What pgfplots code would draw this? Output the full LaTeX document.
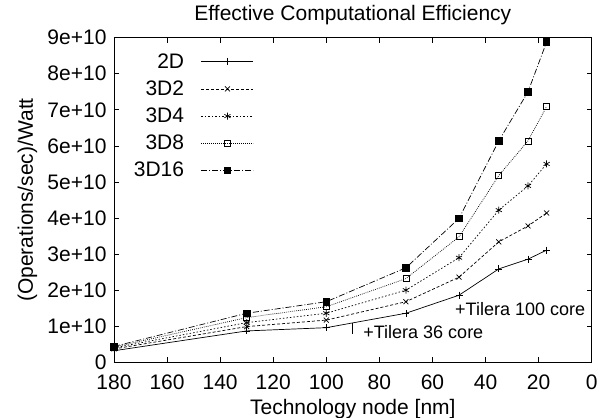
\documentclass[border=0pt]{standalone}
\usepackage{pgfplots}
\pgfplotsset{compat=1.18}
\usepackage{fontspec}
\setmainfont{Liberation Sans}
\begin{document}
\begin{tikzpicture}[font=\fontsize{21bp}{25bp}\selectfont]
\begin{axis}[
  scale only axis,
  width=477.7bp, height=324.6bp,
  xmin=0, xmax=180, ymin=0, ymax=9e10,
  x dir=reverse,
  xtick={0,20,...,180},
  ytick={0,1e10,2e10,3e10,4e10,5e10,6e10,7e10,8e10,9e10},
  yticklabels={0,1e+10,2e+10,3e+10,4e+10,5e+10,6e+10,7e+10,8e+10,9e+10},
  scaled y ticks=false,
  /pgf/number format/assume math mode=true,
  tick align=inside,
  major tick length=5bp,
  tick style={black, line width=0.8bp},
  axis line style={line width=0.8bp},
  xticklabel style={anchor=base, yshift=-27bp},
  yticklabel style={anchor=east, xshift=-4bp},
  title={Effective Computational Efficiency},
  title style={at={(rel axis cs:0.5,1)}, anchor=base, yshift=11.7bp},
  xlabel={Technology node [nm]},
  ylabel={(Operations/sec)/Watt},
  xlabel style={at={(rel axis cs:0.5,0)}, anchor=base, yshift=-52bp},
  ylabel style={at={(rel axis cs:0,0.5)}, anchor=base, yshift=81bp},
  legend plot pos=right,
  legend cell align=right,
  legend style={draw=none, fill=none, inner sep=0pt, at={(rel axis cs:0,1)}, anchor=north west,
    xshift=19.7bp, yshift=-15.8bp, row sep=11bp, column sep=17bp, nodes={inner sep=0pt}},
  legend image code/.code={\draw[#1, mark=none] (0bp,0bp) -- (52bp,0bp);
    \path[#1] plot coordinates {(26bp,0bp)};},
  every axis plot/.append style={line width=0.7bp, black},
]
\addplot[solid, mark=+, mark size=3.5bp, mark options={solid}] coordinates {
(180,0.32e10)(130,0.87e10)(100,0.96e10)(70,1.36e10)(50,1.86e10)(35,2.59e10)(24,2.86e10)(17,3.11e10)};
\addlegendentry{2D}
\addplot[dash pattern=on 3bp off 2bp, mark=x, mark size=3.5bp, mark options={solid}] coordinates {
(180,0.37e10)(130,0.99e10)(100,1.17e10)(70,1.68e10)(50,2.36e10)(35,3.34e10)(24,3.78e10)(17,4.14e10)};
\addlegendentry{3D2}
\addplot[dash pattern=on 1.5bp off 2bp, mark=asterisk, mark size=3.5bp, mark options={solid}] coordinates {
(180,0.40e10)(130,1.10e10)(100,1.36e10)(70,2.00e10)(50,2.90e10)(35,4.22e10)(24,4.89e10)(17,5.50e10)};
\addlegendentry{3D4}
\addplot[dash pattern=on 0.8bp off 1.2bp, mark=square, mark size=3bp, mark options={solid}] coordinates {
(180,0.42e10)(130,1.24e10)(100,1.54e10)(70,2.32e10)(50,3.48e10)(35,5.18e10)(24,6.14e10)(17,7.09e10)};
\addlegendentry{3D8}
\addplot[dash pattern=on 6bp off 2bp on 1bp off 2bp, mark=square*, mark size=3.2bp, mark options={solid}] coordinates {
(180,0.44e10)(130,1.36e10)(100,1.68e10)(70,2.62e10)(50,3.99e10)(35,6.14e10)(24,7.50e10)(17,8.88e10)};
\addlegendentry{3D16}
\addplot[black, line width=0.7bp, no marks, forget plot] coordinates {(90,0.785e10)(90,1.09e10)};
\node[anchor=west, inner sep=0pt, font=\fontsize{18bp}{21bp}\selectfont] at (axis cs:51.5,1.48e10) {+Tilera 100 core};
\node[anchor=west, inner sep=0pt, font=\fontsize{18bp}{21bp}\selectfont] at (axis cs:86.1,0.85e10) {+Tilera 36 core};
\end{axis}
\pgfresetboundingbox
\path (current axis.south west) ++(-114bp,-55.7bp) rectangle ++(601bp,418bp);
\end{tikzpicture}
\end{document}
